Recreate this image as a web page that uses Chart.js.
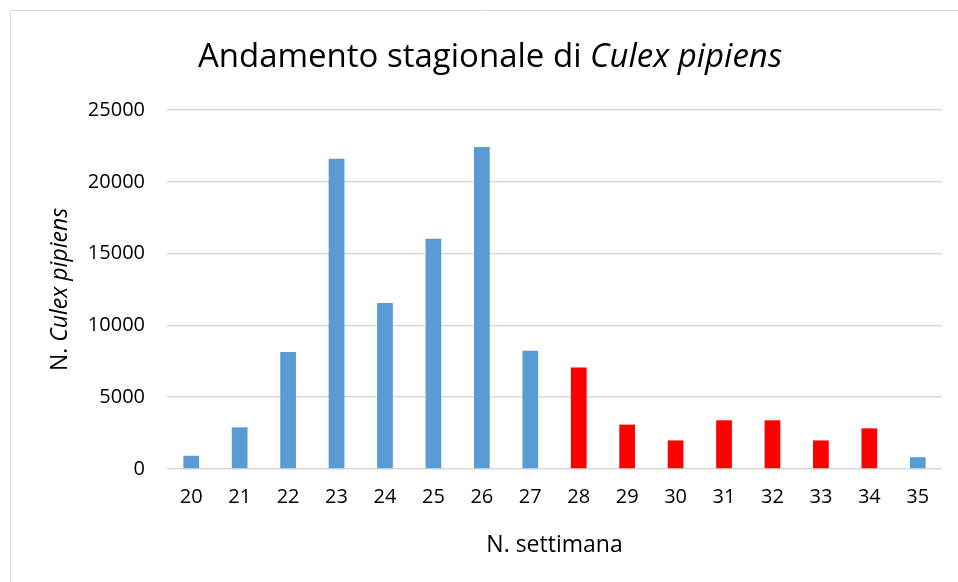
<!DOCTYPE html>
<html>
<head>
<meta charset="utf-8">
<script src="https://cdn.jsdelivr.net/npm/chart.js@4"></script>
<style>
  html, body { margin: 0; padding: 0; background: #fff; }
  #wrap { position: relative; width: 958px; height: 582px; }
</style>
</head>
<body>
<div id="wrap"><canvas id="chart" width="958" height="582"></canvas></div>
<script>
// Settimane e catture
const weeks = ['20', '21', '22', '23', '24', '25', '26', '27', '28', '29', '30', '31', '32', '33', '34', '35'];
const captures = [920, 2900, 8140, 21610, 11560, 16030, 22430, 8230, 7070, 3090, 1990, 3390, 3390, 1990, 2830, 820];
const redWeeks = ['28', '29', '30', '31', '32', '33', '34'];
const yTicks = [0, 5000, 10000, 15000, 20000, 25000];

const FONT = '"Open Sans", "DejaVu Sans", sans-serif';

// draws text made of normal/italic pieces, centred on x,y
function mixedText(ctx, parts, x, y, size, rotate) {
    ctx.save();
    ctx.translate(x, y);
    if (rotate) ctx.rotate(-Math.PI / 2);
    ctx.textBaseline = 'middle';
    ctx.textAlign = 'left';
    ctx.fillStyle = '#000';
    let total = 0;
    parts.forEach(p => {
        ctx.font = (p.italic ? 'italic ' : '') + size + 'px ' + FONT;
        total += ctx.measureText(p.text).width;
    });
    let cx = -total / 2;
    parts.forEach(p => {
        ctx.font = (p.italic ? 'italic ' : '') + size + 'px ' + FONT;
        ctx.fillText(p.text, cx, 0);
        cx += ctx.measureText(p.text).width;
    });
    ctx.restore();
}

const decor = {
    id: 'decor',
    beforeDraw(chart) {
        const ctx = chart.ctx;
        ctx.save();
        ctx.strokeStyle = '#d9d9d9';
        ctx.lineWidth = 1;
        ctx.beginPath();
        ctx.moveTo(10.5, 582);
        ctx.lineTo(10.5, 10.5);
        ctx.lineTo(958, 10.5);
        ctx.stroke();
        ctx.restore();
    },
    afterDraw(chart) {
        const ctx = chart.ctx;
        const a = chart.chartArea;
        mixedText(ctx, [{ text: 'Andamento stagionale di ' }, { text: 'Culex pipiens', italic: true }], 490, 58, 33, false);
        mixedText(ctx, [{ text: 'N. ' }, { text: 'Culex pipiens', italic: true }], 60, (a.top + a.bottom) / 2, 23, true);
        mixedText(ctx, [{ text: 'N. settimana' }], (a.left + a.right) / 2, 545, 23, false);
    }
};

new Chart(document.getElementById('chart'), {
    type: 'bar',
    data: {
        labels: weeks,
        datasets: [{
            label: 'N. Culex pipiens',
            data: captures,
            backgroundColor: ctx => redWeeks.includes(weeks[ctx.dataIndex]) ? '#ff0000' : '#5b9bd5',
            borderWidth: 0,
            categoryPercentage: 0.65,
            barPercentage: 0.5
        }]
    },
    options: {
        responsive: false,
        animation: false,
        devicePixelRatio: 1,
        layout: { padding: { top: 110, right: 16, bottom: 0, left: 0 } },
        plugins: {
            legend: { display: false },
            title: { display: false },
            tooltip: { enabled: false }
        },
        scales: {
            x: {
                grid: { display: false, drawTicks: false },
                border: { display: false },
                ticks: { color: '#000', font: { family: FONT, size: 20 }, padding: 16, maxRotation: 0 },
                afterFit: s => { s.height = 113; }
            },
            y: {
                min: 0,
                max: 25000,
                afterBuildTicks: s => { s.ticks = yTicks.map(v => ({ value: v })); },
                grid: { color: '#d9d9d9', lineWidth: 1.5, drawTicks: false },
                border: { display: false },
                ticks: {
                    color: '#000',
                    font: { family: FONT, size: 20 },
                    padding: 22,
                    callback: v => String(v)
                },
                afterFit: s => { s.width = 167; }
            }
        }
    },
    plugins: [decor]
});
</script>
</body>
</html>
